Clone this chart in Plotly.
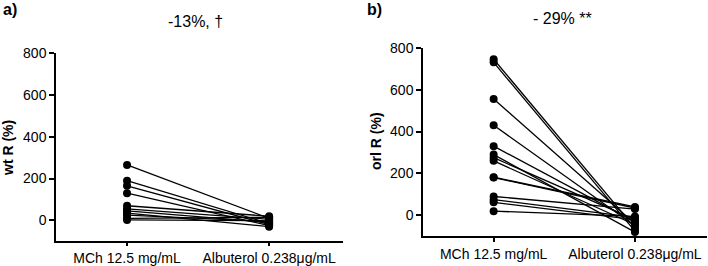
import plotly.graph_objects as go

categories = ["MCh 12.5 mg/mL", "Albuterol 0.238\u03bcg/mL"]
y_ticks = [0, 200, 400, 600, 800]

# Panel a) wt R (%) - paired values per subject
wt_mch = [265, 190, 165, 130, 70, 55, 45, 35, 25, 10, 2]
wt_alb = [10, -15, -20, -25, 20, 5, -10, -30, -5, 15, -2]

# Panel b) orl R (%) - paired values per subject
orl_mch = [745, 730, 555, 430, 330, 290, 275, 260, 182, 180, 90, 75, 62, 20]
orl_alb = [-60, -75, -40, -50, -30, -80, -20, -45, 40, 35, 30, -10, -20, -5]

panel_titles = ["-13%, \u2020", "- 29% **"]
panel_letters = ["a)", "b)"]
y_titles = ["<b>wt R (%)</b>", "<b>orl R (%)</b>"]

FONT = "Liberation Sans, Arial, sans-serif"

fig = go.Figure()

def add_pairs(mch, alb, xa, ya):
    for a, b in zip(mch, alb):
        fig.add_trace(go.Scatter(
            x=[0, 1], y=[a, b], mode="lines+markers",
            line=dict(color="black", width=1.3),
            marker=dict(color="black", size=8),
            xaxis=xa, yaxis=ya, showlegend=False, hoverinfo="skip"))

add_pairs(wt_mch, wt_alb, "x", "y")
add_pairs(orl_mch, orl_alb, "x2", "y2")

axis_common = dict(showline=True, linecolor="black", linewidth=1.5,
                   ticks="outside", tickwidth=1.5, tickcolor="black",
                   showgrid=False, zeroline=False, automargin=False,
                   tickfont=dict(family=FONT, size=14, color="black"))

fig.update_layout(
    width=708, height=266,
    margin=dict(l=0, r=0, t=0, b=0),
    paper_bgcolor="white", plot_bgcolor="white",
    xaxis=dict(domain=[56/708, 343/708], range=[-0.5, 1.52], ticklen=3,
               tickvals=[0, 1], ticktext=categories, anchor="y", **axis_common),
    yaxis=dict(domain=[(266-241.3)/266, (266-53)/266], range=[-100, 800], ticklen=5,
               tickvals=y_ticks, anchor="x", **axis_common),
    xaxis2=dict(domain=[423/708, 707/708], range=[-0.5, 1.51], ticklen=4,
                tickvals=[0, 1], ticktext=categories, anchor="y2", **axis_common),
    yaxis2=dict(domain=[(266-236.3)/266, (266-47.7)/266], range=[-100, 800], ticklen=5,
                tickvals=y_ticks, anchor="x2", **axis_common),
)

ann = []
# panel titles
ann.append(dict(x=195/708, y=1 - 22/266, text=panel_titles[0]))
ann.append(dict(x=562/708, y=1 - 18/266, text=panel_titles[1]))
for a in ann:
    a.update(xref="paper", yref="paper", showarrow=False, xanchor="center", yanchor="middle",
             font=dict(family=FONT, size=16, color="black"))
letters = [
    dict(x=1/708, y=1 - 9/266, text="<b>" + panel_letters[0] + "</b>"),
    dict(x=365/708, y=1 - 9/266, text="<b>" + panel_letters[1] + "</b>"),
]
for a in letters:
    a.update(xref="paper", yref="paper", showarrow=False, xanchor="left", yanchor="middle",
             font=dict(family=FONT, size=16, color="black"))
ytitles = [
    dict(x=8/708, y=1 - 148/266, text=y_titles[0]),
    dict(x=376/708, y=1 - 141/266, text=y_titles[1]),
]
for a in ytitles:
    a.update(xref="paper", yref="paper", showarrow=False, xanchor="center", yanchor="middle",
             textangle=-90, font=dict(family=FONT, size=14, color="black"))

fig.update_layout(annotations=ann + letters + ytitles)
fig.write_html("out.html", config={"displayModeBar": False},
               post_script="document.body.style.margin='0px';document.body.style.overflow='hidden';")
